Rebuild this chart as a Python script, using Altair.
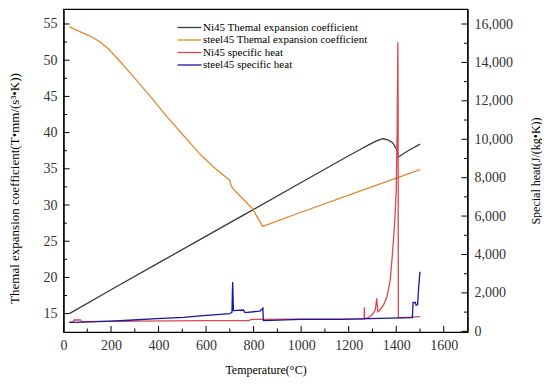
import altair as alt
import pandas as pd

# ---- data ----
SERIES = [
    "Ni45 Themal expansion coefficient",
    "steel45 Themal expansion coefficient",
    "Ni45 specific heat",
    "steel45 specific heat",
]
COLORS = ["#3a3a3a", "#e08a2e", "#e0464c", "#1616a8"]
WIDTHS = [1.3, 1.3, 1.2, 1.8]

# Ni45 thermal expansion coefficient (left axis)
ni_te_T = [25, 200, 400, 600, 800, 1000, 1200, 1250, 1290, 1320, 1345, 1365, 1385, 1398, 1404, 1408, 1450, 1500]
ni_te_v = [15.0, 18.3, 22.0, 25.7, 29.4, 33.1, 36.8, 37.7, 38.4, 38.9, 39.15, 39.0, 38.6, 37.9, 37.5, 36.6, 37.5, 38.4]

# steel45 thermal expansion coefficient (left axis)
st_te_T = [25, 85, 120, 155, 190, 225, 295, 365, 435, 505, 575, 640, 700, 704, 712, 750, 795, 838, 1000, 1200, 1400, 1500]
st_te_v = [54.6, 53.7, 53.2, 52.5, 51.5, 50.3, 47.7, 45.0, 42.2, 39.6, 37.0, 35.0, 33.4, 32.8, 32.3, 31.0, 29.5, 27.05,
           29.0, 31.35, 33.7, 34.9]

# Ni45 specific heat (right axis)
ni_sh_T = [25, 40, 44, 72, 76, 300, 600, 780, 790, 1000, 1265, 1266, 1267, 1270, 1285, 1298, 1312, 1318, 1323,
           1332, 1347, 1361, 1375, 1382, 1389, 1395, 1400, 1404, 1407, 1408, 1409, 1450, 1500]
ni_sh_v = [480, 490, 590, 590, 500, 530, 555, 560, 620, 630, 645, 1250, 650, 660, 720, 850, 1110, 1720, 1020,
           1110, 1370, 1800, 2670, 3710, 4820, 6000, 7300, 10500, 15050, 12000, 710, 730, 760]

# steel45 specific heat (right axis)
st_sh_T = [25, 80, 200, 294, 393, 505, 575, 700, 709, 711, 712, 714, 715, 757, 764, 827, 839, 841, 1000, 1164,
           1332, 1468, 1471, 1480, 1484, 1490, 1494, 1500]
st_sh_v = [470, 480, 530, 588, 656, 729, 800, 915, 1000, 2200, 2560, 1500, 1080, 1110, 970, 1056, 1200, 560, 625,
           625, 676, 710, 1500, 1500, 1360, 1380, 2200, 3100]

# axis tick values (major = labelled, minor = unlabelled)
X_MAJOR = [0, 200, 400, 600, 800, 1000, 1200, 1400, 1600]
X_MINOR = [100, 300, 500, 700, 900, 1100, 1300, 1500, 1700]
YL_MAJOR = [15, 20, 25, 30, 35, 40, 45, 50, 55]
YL_MINOR = [17.5, 22.5, 27.5, 32.5, 37.5, 42.5, 47.5, 52.5]
YR_MAJOR = [0, 2000, 4000, 6000, 8000, 10000, 12000, 14000, 16000]
YR_MINOR = [1000, 3000, 5000, 7000, 9000, 11000, 13000, 15000]

W, H = 404, 323
SERIF = "Liberation Serif"


def frame(name, T, v):
    return pd.DataFrame({"T": T, "v": v, "series": name, "i": list(range(len(T)))})


thermal = pd.concat([frame(SERIES[0], ni_te_T, ni_te_v), frame(SERIES[1], st_te_T, st_te_v)])
heat = pd.concat([frame(SERIES[2], ni_sh_T, ni_sh_v), frame(SERIES[3], st_sh_T, st_sh_v)])

x_scale = alt.Scale(domain=[0, 1700], nice=False, zero=False)
yl_scale = alt.Scale(domain=[12.46, 57.07], nice=False, zero=False)
yr_scale = alt.Scale(domain=[-36, 16782], nice=False, zero=False)

x_axis = alt.Axis(
    values=X_MAJOR, format="d", ticks=False, labelPadding=6,
    labelFlush=False, labelOverlap=False,
    title="Temperature(°C)", titlePadding=12,
)
yl_axis = alt.Axis(
    values=YL_MAJOR, format="d", ticks=False, labelPadding=6.5,
    labelFlush=False, labelOverlap=False,
    title="Themal expansion coefficient(T•mm/(s³•K))", titlePadding=22,
    titleFontSize=13, titleY=179,
)
yr_axis = alt.Axis(
    orient="right", values=YR_MAJOR, format=",d", ticks=False, labelPadding=6.5,
    labelFlush=False, labelOverlap=False,
    title="Special heat(J/(kg•K))", titleAngle=270, titlePadding=30,
)

legend = alt.Legend(
    title=None,
    orient="none",
    legendX=120.5,
    legendY=13,
    symbolType="M-3,0H3",
    symbolSize=64,
    symbolStrokeWidth=1.5,
    labelFont=SERIF,
    labelFontSize=11,
    labelColor="#000",
    labelOffset=8,
    labelLimit=400,
    rowPadding=0.5,
    padding=0,
)
color = alt.Color("series:N", scale=alt.Scale(domain=SERIES, range=COLORS), legend=legend)
width_enc = alt.StrokeWidth("series:N", scale=alt.Scale(domain=SERIES, range=WIDTHS), legend=None)

thermal_chart = alt.Chart(thermal).mark_line().encode(
    x=alt.X("T:Q", scale=x_scale, axis=x_axis),
    y=alt.Y("v:Q", scale=yl_scale, axis=yl_axis),
    color=color,
    strokeWidth=width_enc,
    order="i:Q",
)

heat_chart = alt.Chart(heat).mark_line().encode(
    x=alt.X("T:Q", scale=x_scale, axis=x_axis),
    y=alt.Y("v:Q", scale=yr_scale, axis=yr_axis),
    color=color,
    strokeWidth=width_enc,
    order="i:Q",
)


def ticks_df(vals):
    return pd.DataFrame({"t": vals})


def x_ticks(vals, length):
    return alt.Chart(ticks_df(vals)).mark_rule(color="#000", strokeWidth=1).encode(
        x=alt.X("t:Q", scale=x_scale, axis=x_axis),
        y=alt.value(H),
        y2=alt.value(H - length),
    )


def yl_ticks(vals, length):
    return alt.Chart(ticks_df(vals)).mark_rule(color="#000", strokeWidth=1).encode(
        y=alt.Y("t:Q", scale=yl_scale, axis=yl_axis),
        x=alt.value(0),
        x2=alt.value(length),
    )


def yr_ticks(vals, length):
    return alt.Chart(ticks_df(vals)).mark_rule(color="#000", strokeWidth=1).encode(
        y=alt.Y("t:Q", scale=yr_scale, axis=yr_axis),
        x=alt.value(W),
        x2=alt.value(W - length),
    )


left_group = alt.layer(
    thermal_chart,
    yl_ticks(YL_MAJOR, 6), yl_ticks(YL_MINOR, 3.5),
    x_ticks(X_MAJOR, 6), x_ticks(X_MINOR, 3.5),
)
right_group = alt.layer(
    yr_ticks(YR_MAJOR, 6), yr_ticks(YR_MINOR, 3.5),
    heat_chart,
)

chart = (
    alt.layer(left_group, right_group)
    .resolve_scale(y="independent")
    .properties(
        width=W,
        height=H,
        autosize=alt.AutoSizeParams(type="none"),
        padding={"left": 55.5, "top": 1, "right": 74, "bottom": 46},
        background="white",
    )
    .configure_view(stroke="#000", strokeWidth=1.2)
    .configure_axis(
        domainColor="#000",
        domainWidth=1.2,
        labelFont=SERIF,
        labelFontSize=14,
        labelColor="#333",
        titleFont=SERIF,
        titleFontSize=12,
        titleFontWeight="normal",
        titleColor="#000",
        grid=False,
    )
)

chart.save("out.html", embed_options={"renderer": "svg", "actions": False})
